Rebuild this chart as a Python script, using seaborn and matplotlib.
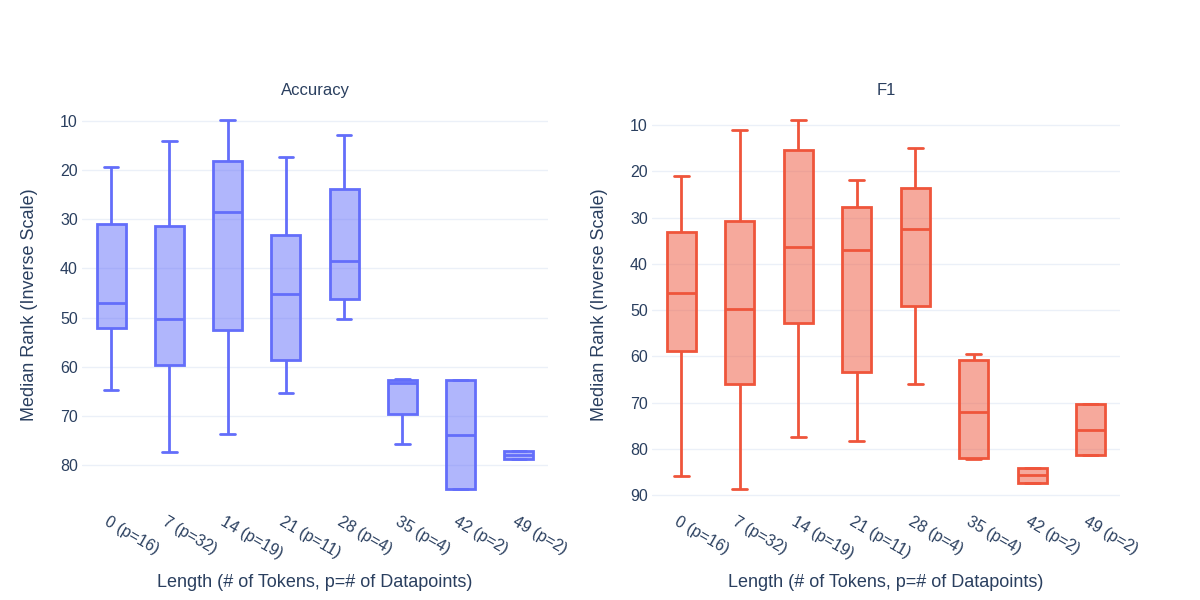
import numpy as np
import pandas as pd
import matplotlib
matplotlib.use("Agg")
import matplotlib.pyplot as plt
import matplotlib.transforms as mtransforms
import seaborn as sns

# categories on the x axis
lengths = ["0 (p=16)", "7 (p=32)", "14 (p=19)", "21 (p=11)",
           "28 (p=4)", "35 (p=4)", "42 (p=2)", "49 (p=2)"]

# box stats: lower whisker, q1, median, q3, upper whisker
# (rank axis is inverted, so "q1" is the upper edge on screen)
acc_lo  = [19.3, 14.1,  9.9, 17.4, 12.8, 62.5, 62.8, 77.2]
acc_q1  = [30.9, 31.3, 18.1, 33.3, 23.9, 62.8, 62.8, 77.2]
acc_med = [47.0, 50.3, 28.6, 45.3, 38.6, 63.3, 73.9, 78.0]
acc_q3  = [52.2, 59.6, 52.6, 58.7, 46.2, 69.7, 84.8, 78.8]
acc_hi  = [64.8, 77.3, 73.6, 65.3, 50.3, 75.8, 84.8, 78.8]

f1_lo  = [21.0, 11.0,  9.0, 21.9, 15.0, 59.4, 84.2, 70.4]
f1_q1  = [33.2, 30.8, 15.4, 27.7, 23.7, 60.9, 84.2, 70.4]
f1_med = [46.4, 49.7, 36.4, 37.0, 32.4, 72.0, 85.7, 75.9]
f1_q3  = [58.9, 65.9, 52.7, 63.4, 49.2, 81.9, 87.3, 81.4]
f1_hi  = [85.9, 88.6, 77.4, 78.3, 65.9, 82.2, 87.3, 81.4]

acc_ticks = [10, 20, 30, 40, 50, 60, 70, 80]
f1_ticks = [10, 20, 30, 40, 50, 60, 70, 80, 90]

TEXT = "#2a3f5f"
GRID = "#EBF0F8"


def long_frame(lo, q1, med, q3, hi):
    # five points per category reproduce the box exactly with whis=(0, 100)
    rows = []
    for i, cat in enumerate(lengths):
        for v in (lo[i], q1[i], med[i], q3[i], hi[i]):
            rows.append({"length": cat, "rank": v})
    return pd.DataFrame(rows)


def draw_panel(ax, df, color, title, ticks):
    face = matplotlib.colors.to_rgba(color, 0.5)
    sns.boxplot(data=df, x="length", y="rank", order=lengths, ax=ax,
                color=color, saturation=1, width=0.5, whis=(0, 100),
                linecolor=color, linewidth=2, showfliers=False,
                boxprops=dict(facecolor=face))
    lo = df["rank"].min()
    hi = df["rank"].max()
    pad = (hi - lo) * 0.05
    ax.set_ylim(hi + pad, lo - pad)
    ax.set_xlim(-0.5, len(lengths) - 0.5)
    ax.set_yticks(ticks)
    ax.grid(axis="y", color=GRID, linewidth=1)
    ax.grid(axis="x", visible=False)
    ax.set_axisbelow(True)
    for s in ax.spines.values():
        s.set_visible(False)
    ax.tick_params(length=0, colors=TEXT, labelsize=11.5)
    ax.tick_params(axis="y", pad=3)
    ax.tick_params(axis="x", pad=10)
    shift = mtransforms.ScaledTranslation(-4 / 72, 0, ax.figure.dpi_scale_trans)
    for lab in ax.get_xticklabels():
        lab.set_rotation(-30)
        lab.set_ha("left")
        lab.set_va("center")
        lab.set_rotation_mode("anchor")
        lab.set_transform(lab.get_transform() + shift)
    ax.set_title(title, color=TEXT, fontsize=12, pad=5)
    ax.set_ylabel("Median Rank (Inverse Scale)", color=TEXT, fontsize=13)
    ax.yaxis.set_label_coords(-0.095, 0.5)
    ax.set_xlabel("Length (# of Tokens, p=# of Datapoints)", color=TEXT,
                  fontsize=13)
    ax.xaxis.set_label_coords(0.5, -0.165)


sns.set_theme(style="white")
plt.rcParams["font.family"] = ["Liberation Sans", "DejaVu Sans"]

fig = plt.figure(figsize=(12, 6), dpi=100)
ax1 = fig.add_axes([0.0683, 0.155, 0.3884, 0.675])
ax2 = fig.add_axes([0.5433, 0.155, 0.39, 0.675])

draw_panel(ax1, long_frame(acc_lo, acc_q1, acc_med, acc_q3, acc_hi),
           "#636EFA", "Accuracy", acc_ticks)
draw_panel(ax2, long_frame(f1_lo, f1_q1, f1_med, f1_q3, f1_hi),
           "#EF553B", "F1", f1_ticks)

fig.savefig("out.png", dpi=100, facecolor="white")
